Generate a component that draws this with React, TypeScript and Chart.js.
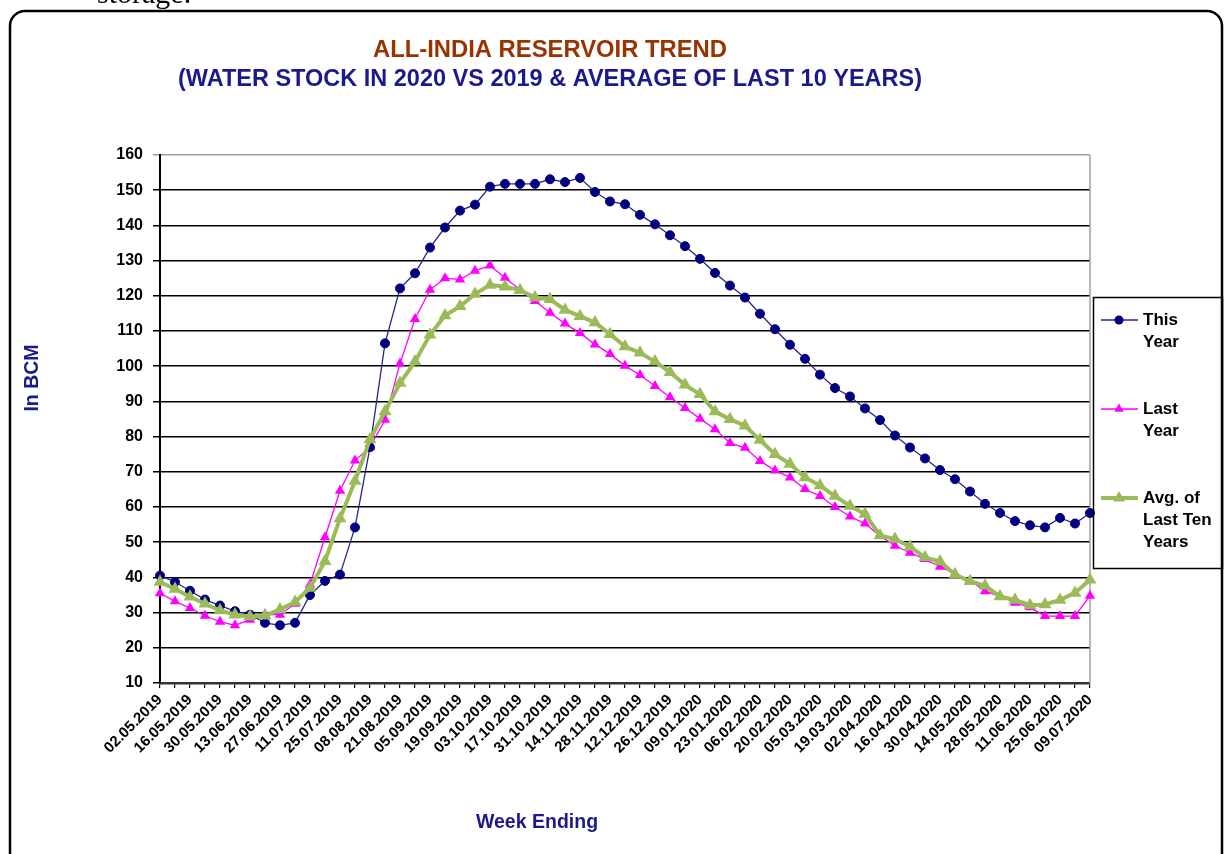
import React, { useEffect, useRef } from "react";
import { Chart, registerables } from "chart.js";

Chart.register(...registerables);

const weekLabels: string[] = [
  "02.05.2019", "09.05.2019", "16.05.2019", "23.05.2019", "30.05.2019", "06.06.2019", "13.06.2019",
  "20.06.2019", "27.06.2019", "04.07.2019", "11.07.2019", "18.07.2019", "25.07.2019", "01.08.2019",
  "08.08.2019", "14.08.2019", "21.08.2019", "29.08.2019", "05.09.2019", "12.09.2019", "19.09.2019",
  "26.09.2019", "03.10.2019", "10.10.2019", "17.10.2019", "24.10.2019", "31.10.2019", "07.11.2019",
  "14.11.2019", "21.11.2019", "28.11.2019", "05.12.2019", "12.12.2019", "19.12.2019", "26.12.2019",
  "02.01.2020", "09.01.2020", "16.01.2020", "23.01.2020", "30.01.2020", "06.02.2020", "13.02.2020",
  "20.02.2020", "27.02.2020", "05.03.2020", "12.03.2020", "19.03.2020", "26.03.2020", "02.04.2020",
  "09.04.2020", "16.04.2020", "23.04.2020", "30.04.2020", "07.05.2020", "14.05.2020", "21.05.2020",
  "28.05.2020", "04.06.2020", "11.06.2020", "18.06.2020", "25.06.2020", "02.07.2020", "09.07.2020",
];

const thisYear: number[] = [
  40.5, 38.7, 36.2, 33.7, 32.0, 30.4, 29.4, 27.1, 26.4, 27.1,
  35.0, 39.0, 40.8, 54.2, 77.0, 106.5, 122.1, 126.4, 133.7, 139.4,
  144.2, 145.9, 151.0, 151.8, 151.8, 151.8, 153.1, 152.3, 153.5, 149.5,
  146.8, 146.0, 143.0, 140.3, 137.2, 134.1, 130.5, 126.5, 122.9, 119.5,
  114.9, 110.5, 106.1, 102.1, 97.6, 93.8, 91.4, 88.0, 84.7, 80.3,
  76.9, 73.8, 70.5, 67.9, 64.4, 60.9, 58.3, 56.0, 54.8, 54.2,
  56.9, 55.3, 58.3,
];

const lastYear: number[] = [
  35.5, 33.2, 31.3, 29.1, 27.4, 26.4, 28.0, 29.5, 29.4, 32.5,
  38.0, 51.4, 64.6, 73.2, 77.0, 84.8, 100.8, 113.4, 121.7, 125.0,
  124.6, 127.1, 128.6, 125.1, 121.7, 118.5, 115.2, 112.1, 109.4, 106.2,
  103.5, 100.1, 97.5, 94.4, 91.2, 88.1, 85.1, 82.1, 78.2, 76.8,
  73.1, 70.4, 68.4, 65.1, 63.1, 60.0, 57.3, 55.3, 51.8, 49.0,
  47.0, 45.2, 43.0, 41.1, 39.1, 36.1, 34.6, 32.8, 31.5, 29.0,
  29.0, 29.0, 34.8,
];

const avgTenYears: number[] = [
  38.7, 36.7, 34.5, 32.5, 30.6, 29.4, 28.9, 29.1, 30.9, 33.0,
  37.0, 44.6, 56.7, 67.4, 79.2, 87.1, 95.2, 101.3, 108.9, 114.4,
  117.0, 120.5, 123.1, 122.6, 121.6, 119.5, 119.0, 116.0, 114.2, 112.4,
  109.1, 105.6, 103.8, 101.3, 98.3, 94.7, 92.0, 87.1, 84.9, 83.1,
  79.0, 75.0, 72.2, 68.4, 66.1, 63.1, 60.3, 58.0, 51.9, 50.9,
  48.7, 45.7, 44.5, 40.8, 38.9, 37.6, 34.6, 33.6, 32.1, 32.3,
  33.6, 35.6, 39.3,
];

const seriesNames: string[][] = [["This", "Year"], ["Last", "Year"], ["Avg. of", "Last Ten", "Years"]];

const FONT = "'Liberation Sans', Arial, Helvetica, sans-serif";
const NAVY = "#000080";
const NAVY_LINE = "#26268c";
const MAGENTA = "#ff00ff";
const GREEN = "#9bbb59";
const BROWN = "#993300";
const TITLE_NAVY = "#1a1a8c";

function drawMarker(ctx: CanvasRenderingContext2D, style: string, x: number, y: number, r: number, fill: string) {
  ctx.beginPath();
  if (style === "circle") {
    ctx.arc(x, y, r, 0, Math.PI * 2);
  } else {
    let rad = 0;
    ctx.moveTo(x + Math.sin(rad) * r, y - Math.cos(rad) * r);
    rad += (2 * Math.PI) / 3;
    ctx.lineTo(x + Math.sin(rad) * r, y - Math.cos(rad) * r);
    rad += (2 * Math.PI) / 3;
    ctx.lineTo(x + Math.sin(rad) * r, y - Math.cos(rad) * r);
    ctx.closePath();
  }
  ctx.fillStyle = fill;
  ctx.fill();
}

const framePlugin = {
  id: "frame",
  beforeDraw(chart: any) {
    const ctx: CanvasRenderingContext2D = chart.ctx;
    ctx.save();
    ctx.fillStyle = "#fff";
    ctx.fillRect(0, 0, chart.width, chart.height);
    // clipped document text above the chart
    ctx.fillStyle = "#000";
    ctx.font = "30px 'Liberation Serif', 'Times New Roman', serif";
    ctx.textBaseline = "alphabetic";
    ctx.fillText("storage.", 97, 3);
    // rounded outer frame
    ctx.strokeStyle = "#000";
    ctx.lineWidth = 2.5;
    ctx.beginPath();
    (ctx as any).roundRect(10, 11, 1212, 900, 15);
    ctx.stroke();
    ctx.restore();
  },
  beforeDatasetsDraw(chart: any) {
    const ctx: CanvasRenderingContext2D = chart.ctx;
    const a = chart.chartArea;
    ctx.save();
    ctx.strokeStyle = "#a0a0a0";
    ctx.lineWidth = 1.5;
    ctx.beginPath();
    ctx.moveTo(a.right, a.top);
    ctx.lineTo(a.right, a.bottom);
    ctx.stroke();
    ctx.restore();
  },
  afterDraw(chart: any) {
    const ctx: CanvasRenderingContext2D = chart.ctx;
    const a = chart.chartArea;
    ctx.save();
    // titles
    ctx.textAlign = "center";
    ctx.textBaseline = "alphabetic";
    ctx.font = `bold 24px ${FONT}`;
    ctx.fillStyle = BROWN;
    ctx.fillText("ALL-INDIA RESERVOIR TREND", 550, 57, 354);
    ctx.fillStyle = TITLE_NAVY;
    ctx.fillText("(WATER STOCK IN 2020 VS 2019 & AVERAGE OF LAST 10 YEARS)", 550, 86, 744);

    // axis titles
    ctx.font = `bold 19.5px ${FONT}`;
    ctx.textBaseline = "middle";
    ctx.fillText("Week Ending", 537, 823);
    ctx.save();
    ctx.translate(33, 378);
    ctx.rotate(-Math.PI / 2);
    ctx.fillText("In BCM", 0, 0);
    ctx.restore();

    // legend
    const lx = a.right + 3;
    ctx.strokeStyle = "#000";
    ctx.lineWidth = 1.5;
    ctx.strokeRect(lx + 0.5, 297.5, 129, 271);
    const items = [
      { y: 320, color: NAVY_LINE, fill: NAVY, lw: 1.3, style: "circle", r: 4.5 },
      { y: 409, color: MAGENTA, fill: MAGENTA, lw: 1.3, style: "triangle", r: 5.5 },
      { y: 498, color: GREEN, fill: GREEN, lw: 4, style: "triangle", r: 7 },
    ];
    ctx.font = `bold 17px ${FONT}`;
    ctx.textAlign = "left";
    ctx.textBaseline = "middle";
    items.forEach((it, k) => {
      ctx.strokeStyle = it.color;
      ctx.lineWidth = it.lw;
      ctx.beginPath();
      ctx.moveTo(lx + 8, it.y);
      ctx.lineTo(lx + 45, it.y);
      ctx.stroke();
      drawMarker(ctx, it.style, lx + 26, it.y, it.r, it.fill);
      ctx.fillStyle = "#000";
      seriesNames[k].forEach((t, j) => ctx.fillText(t, lx + 50, it.y + j * 22));
    });
    ctx.restore();
  },
};

export default function App() {
  const ref = useRef<HTMLCanvasElement | null>(null);

  useEffect(() => {
    if (!ref.current) return;
    const chart = new Chart(ref.current, {
      type: "line",
      data: {
        labels: weekLabels,
        datasets: [
          {
            label: "This Year",
            data: thisYear,
            borderColor: NAVY_LINE,
            borderWidth: 1.3,
            pointBackgroundColor: NAVY,
            pointBorderColor: NAVY,
            pointBorderWidth: 1,
            pointStyle: "circle",
            pointRadius: 4.5,
            tension: 0,
            order: 1,
          },
          {
            label: "Last Year",
            data: lastYear,
            borderColor: MAGENTA,
            borderWidth: 1.3,
            pointBackgroundColor: MAGENTA,
            pointBorderColor: MAGENTA,
            pointBorderWidth: 0,
            pointStyle: "triangle",
            pointRadius: 6,
            tension: 0,
            order: 2,
          },
          {
            label: "Avg. of Last Ten Years",
            data: avgTenYears,
            borderColor: GREEN,
            borderWidth: 4,
            pointBackgroundColor: GREEN,
            pointBorderColor: GREEN,
            pointBorderWidth: 0,
            pointStyle: "triangle",
            pointRadius: 7.5,
            tension: 0,
            order: 0,
          },
        ],
      },
      options: {
        responsive: false,
        animation: false,
        devicePixelRatio: 1,
        layout: { padding: { left: 60, top: 155, right: 140, bottom: 71 } },
        plugins: {
          legend: { display: false },
          title: { display: false },
          tooltip: { enabled: false },
        },
        scales: {
          x: {
            type: "category",
            offset: false,
            grid: { drawOnChartArea: false, drawTicks: true, tickLength: 5, color: "#000", lineWidth: 1.2 },
            border: { display: true, color: "#333", width: 2.5 },
            ticks: {
              autoSkip: false,
              maxRotation: 45,
              minRotation: 45,
              padding: 3,
              color: "#000",
              font: { family: FONT, size: 15, weight: "bold" },
              callback: (_v: any, i: number) => (i % 2 === 0 ? weekLabels[i] : ""),
            },
            afterFit: (s: any) => {
              s.height = 100;
            },
          },
          y: {
            min: 10,
            max: 160,
            ticks: {
              stepSize: 10,
              padding: 10,
              color: "#000",
              font: { family: FONT, size: 16, weight: "bold" },
            },
            grid: {
              color: (c: any) => (c.tick && c.tick.value === 160 ? "#a0a0a0" : "#000"),
              lineWidth: 1.5,
              tickLength: 7,
              drawTicks: true,
            },
            border: { display: true, color: "#000", width: 2 },
            afterFit: (s: any) => {
              s.width = 100;
            },
          },
        },
      } as any,
      plugins: [framePlugin],
    });
    return () => chart.destroy();
  }, []);

  return (
    <div style={{ position: "absolute", left: 0, top: 0, width: 1230, height: 854, overflow: "hidden", background: "#fff" }}>
      <canvas ref={ref} width={1230} height={854} style={{ display: "block", width: 1230, height: 854 }} />
    </div>
  );
}
